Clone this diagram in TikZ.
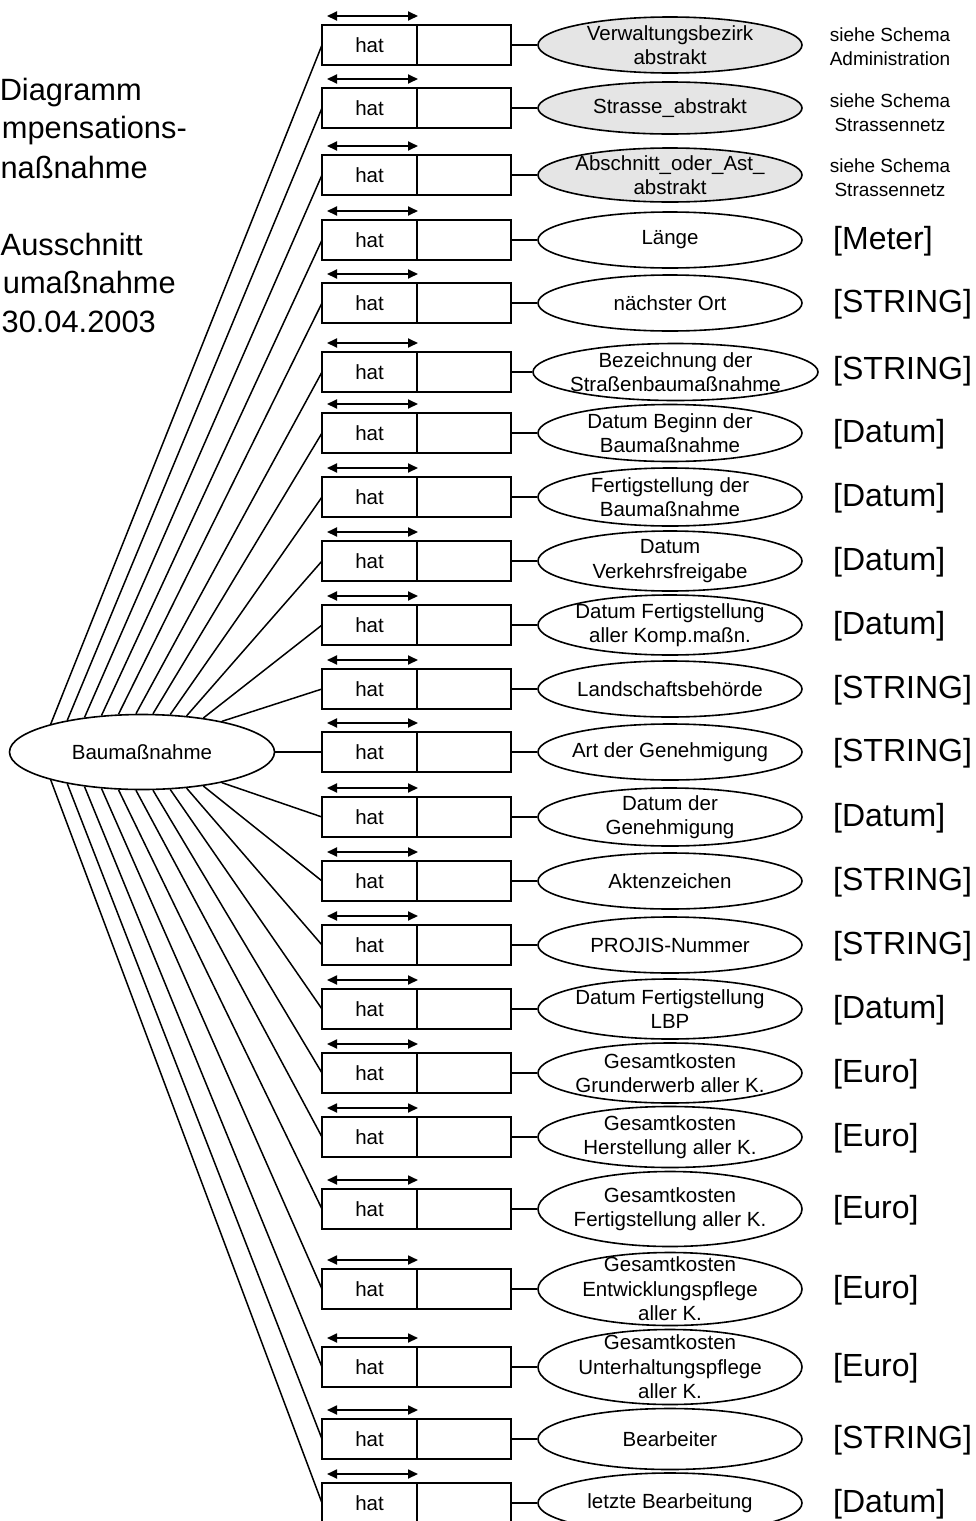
\documentclass[tikz,border=0pt]{standalone}
\usepackage{fontspec}
\setmainfont{Liberation Sans}
\usetikzlibrary{shapes.geometric,arrows.meta}
\tikzset{
 hatbox/.style={draw, line width=1.8pt, minimum width=95pt, minimum height=40pt, inner sep=0pt, outer sep=0pt},
 valbox/.style={hatbox, minimum width=94pt},
 attr/.style={ellipse, draw, line width=1.6pt, minimum width=264pt, inner sep=0pt, fill=white},
 abst/.style={fill=gray!20},
 lbl/.style={align=center, inner sep=0pt, font=\fontsize{20.5}{24.5}\selectfont},
 conn/.style={line width=1.5pt},
 dbl/.style={line width=1.8pt, {Triangle[length=10pt,width=9pt]}-{Triangle[length=10pt,width=9pt]}},
 unit/.style={anchor=west, inner sep=0pt, font=\fontsize{32}{36}\selectfont},
 note/.style={align=center, inner sep=0pt, font=\fontsize{19}{24}\selectfont},
 side/.style={anchor=base east, inner sep=0pt, font=\fontsize{30.8}{36}\selectfont},
}
\newcommand\myrow[5]{%
 \node[hatbox] (h#1) at (369.5,#2) {hat};
 \node[valbox, anchor=west] (v#1) at (h#1.east) {};
 \node[attr, minimum height=#3pt, #5] (e#1) at (670,#2) {};
 \node[lbl] (t#1) at (e#1.center) {#4};
 \draw[conn] (v#1.east) -- (e#1.west);
 \draw[dbl] ([xshift=5pt,yshift=9pt]h#1.north west) -- ([xshift=1pt,yshift=9pt]h#1.north east);
}
\begin{document}
\begin{tikzpicture}[x=1pt,y=-1pt,font=\fontsize{20.5}{24.5}\selectfont]
\clip (0,0) rectangle (976,1521);
% left title text
\node[side] (s1) at (142,100) {Diagramm};
\node[side] (s2) at (187,138) {mpensations-};
\node[side] (s3) at (148,178) {naßnahme};
\node[side] (s4) at (143,255) {Ausschnitt};
\node[side] (s5) at (176,293) {umaßnahme};
\node[side] (s6) at (156,332) {30.04.2003};
% rows
\myrow{1}{45}{56}{Verwaltungsbezirk\\abstrakt}{abst}
\myrow{2}{108}{52}{Strasse\_abstrakt}{abst}
\myrow{3}{175}{54}{Abschnitt\_oder\_Ast\_\\abstrakt}{abst}
\myrow{4}{240}{56}{Länge}{}
\myrow{5}{303}{56}{nächster Ort}{}
\myrow{6}{372}{57}{Bezeichnung der\\Straßenbaumaßnahme}{minimum width=285pt,xshift=5.5pt}
\myrow{7}{433}{57}{Datum Beginn der\\Baumaßnahme}{}
\myrow{8}{497}{58}{Fertigstellung der\\Baumaßnahme}{}
\myrow{9}{561}{60}{Datum\\Verkehrsfreigabe}{}
\myrow{10}{625}{60}{Datum Fertigstellung\\aller Komp.maßn.}{}
\myrow{11}{689}{56}{Landschaftsbehörde}{}
\myrow{12}{752}{56}{Art der Genehmigung}{}
\myrow{13}{817}{58}{Datum der\\Genehmigung}{}
\myrow{14}{881}{56}{Aktenzeichen}{}
\myrow{15}{945}{56}{PROJIS-Nummer}{}
\myrow{16}{1009}{60}{Datum Fertigstellung\\LBP}{}
\myrow{17}{1073}{60}{Gesamtkosten\\Grunderwerb aller K.}{}
\myrow{18}{1137}{61}{Gesamtkosten\\Herstellung aller K.}{}
\myrow{19}{1209}{75}{Gesamtkosten\\Fertigstellung aller K.}{}
\myrow{20}{1289}{73}{Gesamtkosten\\Entwicklungspflege\\aller K.}{}
\myrow{21}{1367}{75}{Gesamtkosten\\Unterhaltungspflege\\aller K.}{}
\myrow{22}{1439}{61}{Bearbeiter}{}
\myrow{23}{1503}{60}{letzte Bearbeitung}{}
% notes
\node[note] (n1) at (890,47) {siehe Schema\\Administration};
\node[note] (n2) at (890,113) {siehe Schema\\Strassennetz};
\node[note] (n3) at (890,178) {siehe Schema\\Strassennetz};
% units
\foreach \i/\yy/\tx in {4/240/{[Meter]},5/303/{[STRING]},6/370/{[STRING]},7/433/{[Datum]},8/497/{[Datum]},9/561/{[Datum]},10/625/{[Datum]},11/689/{[STRING]},12/752/{[STRING]},13/817/{[Datum]},14/881/{[STRING]},15/945/{[STRING]},16/1009/{[Datum]},17/1073/{[Euro]},18/1137/{[Euro]},19/1209/{[Euro]},20/1289/{[Euro]},21/1367/{[Euro]},22/1439/{[STRING]},23/1503/{[Datum]}}{
 \node[unit] (u\i) at (833,\yy+1) {\tx};
}
% central entity
\node[attr, minimum width=265pt, minimum height=75pt] (B) at (142,752) {Baumaßnahme};
\foreach \i in {1,...,11}{
 \pgfmathsetmacro\dx{-90+(\i-1)*16.8}
 \pgfmathsetmacro\rr{\dx/132.5}
 \pgfmathsetmacro\dy{37.5*sqrt(1-\rr*\rr)}
 \pgfmathtruncatemacro\th{round(atan2(\dy,\dx))}
 \draw[conn] (B.\th) -- (h\i.west);
}
\draw[conn] (B.east) -- (h12.west);
\foreach \i in {13,...,23}{
 \pgfmathsetmacro\dx{78-(\i-13)*16.8}
 \pgfmathsetmacro\rr{\dx/132.5}
 \pgfmathsetmacro\dy{37.5*sqrt(1-\rr*\rr)}
 \pgfmathtruncatemacro\th{round(360-atan2(\dy,\dx))}
 \draw[conn] (B.\th) -- (h\i.west);
}
\end{tikzpicture}
\end{document}
